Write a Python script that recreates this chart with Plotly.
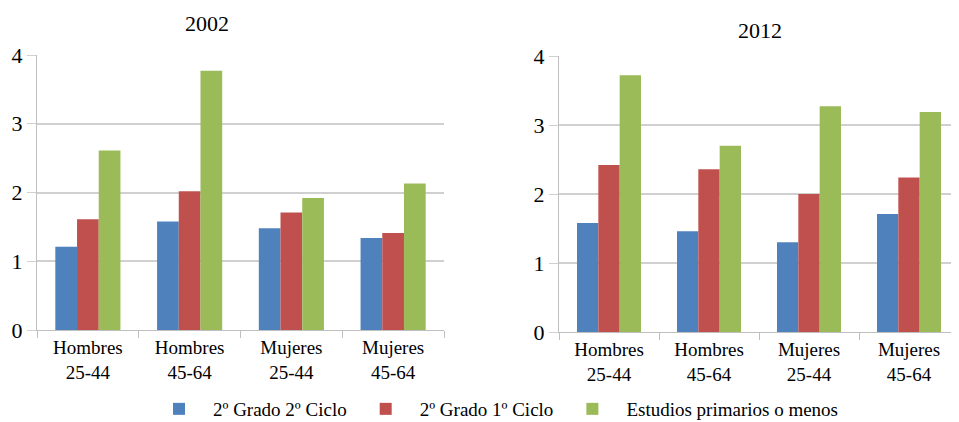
import plotly.graph_objects as go

categories = ["Hombres<br>25-44", "Hombres<br>45-64", "Mujeres<br>25-44", "Mujeres<br>45-64"]
series_names = ["2º Grado 2º Ciclo", "2º Grado 1º Ciclo", "Estudios primarios o menos"]
colors = ["#4F81BD", "#C0504D", "#9BBB59"]

vals_2002_g2c2 = [1.21, 1.58, 1.48, 1.34]
vals_2002_g2c1 = [1.61, 2.02, 1.71, 1.41]
vals_2002_prim = [2.61, 3.77, 1.92, 2.13]

vals_2012_g2c2 = [1.58, 1.46, 1.30, 1.71]
vals_2012_g2c1 = [2.42, 2.36, 2.00, 2.24]
vals_2012_prim = [3.72, 2.70, 3.27, 3.19]

y_ticks = [0, 1, 2, 3, 4]

FONT = "'Liberation Serif', 'Times New Roman', serif"
OFF = 8  # page body margin
W, H = 959 - OFF, 422 - OFF

def px_x(s):
    return (s - OFF) / W

def px_y(s):
    return 1 - (s - OFF) / H

fig = go.Figure()
for i, (name, v02, v12) in enumerate(zip(series_names,
                                         [vals_2002_g2c2, vals_2002_g2c1, vals_2002_prim],
                                         [vals_2012_g2c2, vals_2012_g2c1, vals_2012_prim])):
    fig.add_trace(go.Bar(x=categories, y=v02, name=name, marker_color=colors[i],
                         marker_line_width=0, xaxis="x", yaxis="y", showlegend=True,
                         legendgroup=name))
    fig.add_trace(go.Bar(x=categories, y=v12, name=name, marker_color=colors[i],
                         marker_line_width=0, xaxis="x2", yaxis="y2", showlegend=False,
                         legendgroup=name))

axis_line = "#BFBFBF"
grid = "#D0D0D0"

def xax(domain, anchor):
    return dict(domain=domain, anchor=anchor, type="category", range=[-0.5, 3.5],
                showline=True, linecolor=axis_line, linewidth=1,
                ticks="outside", tickson="boundaries", ticklen=7, tickcolor=axis_line,
                tickfont=dict(family=FONT, size=19, color="#000"), showgrid=False)

def yax(domain, anchor):
    return dict(domain=domain, anchor=anchor, range=[0, 4], tickvals=y_ticks,
                showline=True, linecolor=axis_line, linewidth=1,
                ticks="outside", ticklen=9, tickcolor=grid,
                showgrid=True, gridcolor=grid, gridwidth=1.5, zeroline=False,
                tickfont=dict(family=FONT, size=22, color="#000"))

fig.update_layout(
    width=W, height=H,
    margin=dict(l=0, r=0, t=0, b=0, autoexpand=False),
    paper_bgcolor="white", plot_bgcolor="white",
    barmode="group", bargap=0.36, bargroupgap=0,
    xaxis=xax([px_x(37), px_x(444)], "y"),
    yaxis=yax([px_y(330), px_y(55)], "x"),
    xaxis2=xax([px_x(559), 1.0], "y2"),
    yaxis2=yax([px_y(332), px_y(56)], "x2"),
    font=dict(family=FONT, color="#000"),
    legend=dict(orientation="h", x=px_x(145), xanchor="left", y=px_y(409), yanchor="middle",
                font=dict(family=FONT, size=19, color="#000"), itemwidth=58,
                traceorder="normal"),
    annotations=[
        dict(text="2002", x=px_x(207), y=px_y(24), xref="paper", yref="paper",
             showarrow=False, xanchor="center", yanchor="middle",
             font=dict(family=FONT, size=22, color="#000")),
        dict(text="2012", x=px_x(760), y=px_y(30), xref="paper", yref="paper",
             showarrow=False, xanchor="center", yanchor="middle",
             font=dict(family=FONT, size=22, color="#000")),
    ],
)

fig.write_html("out.html")
